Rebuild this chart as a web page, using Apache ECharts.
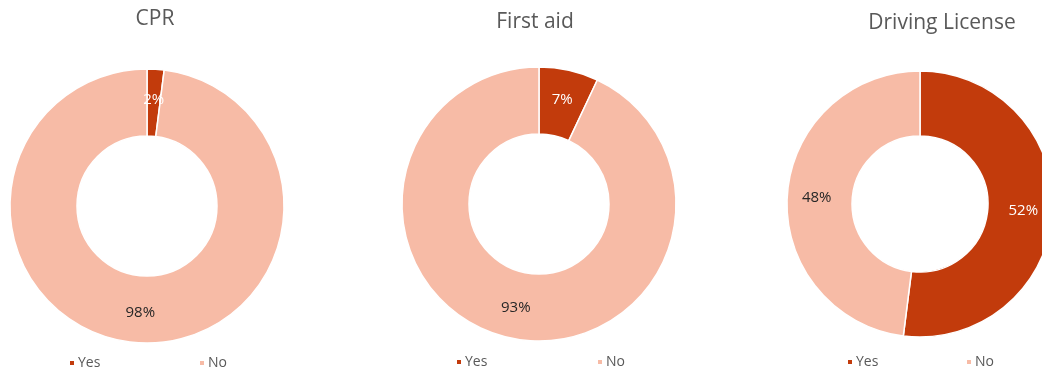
<!DOCTYPE html>
<html>
<head>
<meta charset="utf-8">
<script src="https://cdn.jsdelivr.net/npm/echarts@6/dist/echarts.min.js"></script>
<style>
  html, body { margin: 0; padding: 0; background: #fff; }
  #main { width: 1042px; height: 371px; }
</style>
</head>
<body>
<div id="main"></div>
<script>
var titles = ['CPR', 'First aid', 'Driving License'];
var categories = ['Yes', 'No'];
var yesValues = [2, 7, 52];
var noValues = [98, 93, 48];

var colors = ['#C23B0C', '#F7BBA6'];
var labelColors = ['#ffffff', '#262626'];
var font = '"Open Sans", "Noto Sans", sans-serif';

// layout for each donut
var centers = [[147, 206], [539, 204], [920, 204]];
var radii = [[70, 137], [70, 137], [68, 133]];
var titleX = [155, 535, 942];
var titleY = [9, 12, 13];
var legendX = [[68, 198], [455, 596], [846, 965]];
var legendY = [356, 355, 355];

var chart = echarts.init(document.getElementById('main'));

var title = [], legend = [], series = [];
for (var i = 0; i < titles.length; i++) {
  title.push({
    text: titles[i],
    left: titleX[i],
    top: titleY[i],
    padding: 0,
    textAlign: 'center',
    textStyle: { color: '#595959', fontSize: 21, fontWeight: 'normal', fontFamily: font }
  });
  for (var k = 0; k < categories.length; k++) {
    legend.push({
      data: [categories[k]],
      left: legendX[i][k],
      top: legendY[i],
      padding: 0,
      icon: 'rect',
      itemWidth: 6,
      itemHeight: 6,
      selectedMode: false,
      textStyle: { color: '#595959', fontSize: 14, fontFamily: font, padding: [0, 0, 0, -2] }
    });
  }
  var vals = [yesValues[i], noValues[i]];
  series.push({
    type: 'pie',
    center: centers[i],
    radius: radii[i],
    startAngle: 90,
    clockwise: true,
    avoidLabelOverlap: false,
    emphasis: { disabled: true },
    itemStyle: { borderColor: '#fff', borderWidth: 1.5 },
    label: {
      show: true,
      position: 'inside',
      formatter: '{c}%',
      fontSize: 15,
      fontFamily: font
    },
    labelLine: { show: false },
    data: categories.map(function (c, k) {
      return {
        name: c,
        value: vals[k],
        itemStyle: { color: colors[k] },
        label: { color: labelColors[k] }
      };
    })
  });
}

chart.setOption({
  animation: false,
  color: colors,
  title: title,
  legend: legend,
  series: series
});
</script>
</body>
</html>
